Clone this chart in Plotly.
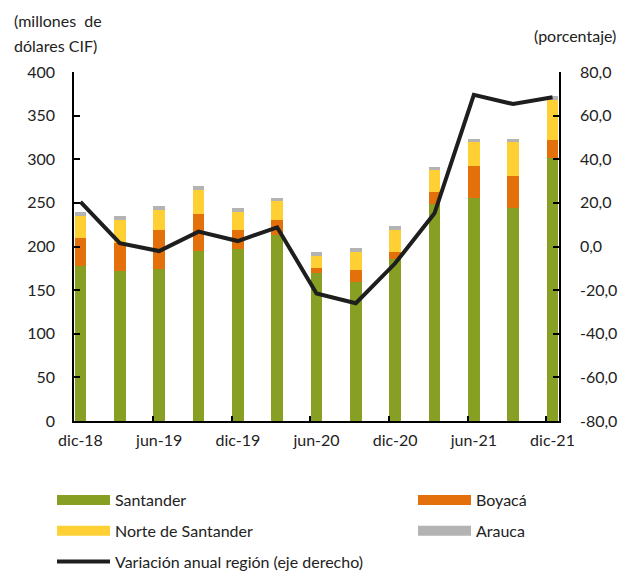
import plotly.graph_objects as go

categories = ["dic-18", "mar-19", "jun-19", "sep-19", "dic-19", "mar-20", "jun-20",
              "sep-20", "dic-20", "mar-21", "jun-21", "sep-21", "dic-21"]
santander = [178, 171.6, 174, 194.5, 197, 213, 169.3, 159.7, 185.3, 249, 256, 244.5, 301]
boyaca = [31.5, 32, 45, 43, 22, 17.6, 6.4, 13.4, 8.8, 13.5, 36.7, 36.3, 21]
norte = [25, 27, 23.3, 27.5, 21, 21, 13.8, 21, 25.2, 25.2, 27.2, 38.6, 46]
arauca = [4.5, 4.3, 4.2, 4.2, 4.2, 4.2, 4.2, 4.6, 3.8, 3.8, 3.8, 4.2, 4.5]
variacion = [20.5, 1.5, -2.1, 6.8, 2.5, 8.8, -21.5, -26, -7.7, 15.2, 69.5, 65.3, 68.4]

left_ticks = [0, 50, 100, 150, 200, 250, 300, 350, 400]
right_ticks = [-80, -60, -40, -20, 0, 20, 40, 60, 80]
right_labels = ["-80,0", "-60,0", "-40,0", "-20,0", "0,0", "20,0", "40,0", "60,0", "80,0"]

C_SAN = "#87A024"
C_BOY = "#E4700C"
C_NOR = "#FFD033"
C_ARA = "#B3B3B3"
C_LINE = "#1E1E1E"
FONT = "Lato"

idx = list(range(len(categories)))

fig = go.Figure()
for name, vals, col in [("Santander", santander, C_SAN), ("Boyacá", boyaca, C_BOY),
                        ("Norte de Santander", norte, C_NOR), ("Arauca", arauca, C_ARA)]:
    fig.add_trace(go.Bar(x=idx, y=vals, name=name, marker=dict(color=col, line=dict(width=0)),
                         width=0.3, showlegend=False))

fig.add_trace(go.Scatter(x=idx, y=variacion, name="Variación anual región (eje derecho)",
                         mode="lines", line=dict(color=C_LINE, width=4),
                         xaxis="x2", yaxis="y2", showlegend=True, legend="legend",
                         legendgroup="g3", legendrank=3))

# legend-only swatches
legend_items = [("Santander", C_SAN, "legend", 1), ("Norte de Santander", C_NOR, "legend", 2),
                ("Boyacá", C_BOY, "legend2", 1), ("Arauca", C_ARA, "legend2", 2)]
for name, col, lg, rk in legend_items:
    fig.add_trace(go.Scatter(x=[None], y=[None], name=name, mode="lines",
                             line=dict(color=col, width=10), legend=lg,
                             legendgroup=name, legendrank=rk))

W, H = 622, 572
L, R, T, B = 74, 63, 72, 151
PW, PH = W - L - R, H - T - B


def px(x):
    return (x - L) / PW


def py(y):
    return 1 - (y - T) / PH


xr = [-0.165, 12.165]
fig.update_layout(
    width=W, height=H,
    margin=dict(l=L, r=R, t=T, b=B, autoexpand=False),
    paper_bgcolor="white", plot_bgcolor="white",
    barmode="stack",
    font=dict(family=FONT, size=16, color="#222222"),
    xaxis=dict(range=xr, tickvals=idx[::2], ticktext=categories[::2], ticks="",
               showline=True, linecolor="black", linewidth=1.5, showgrid=False,
               zeroline=False, tickfont=dict(size=16), ticklabelstandoff=4),
    xaxis2=dict(range=xr, overlaying="x", anchor="y2", tickvals=[i - 0.16 for i in idx[::2]],
                ticks="inside", ticklen=5, tickwidth=1.5, tickcolor="black",
                showticklabels=False, showline=False, showgrid=False, zeroline=False),
    yaxis=dict(range=[0, 400], tickvals=left_ticks, ticks="inside", ticklen=6,
               tickwidth=1.5, tickcolor="black", showline=True, linecolor="black",
               linewidth=1.5, showgrid=False, zeroline=False, ticklabelstandoff=14),
    yaxis2=dict(range=[-80, 80], tickvals=right_ticks, ticktext=right_labels,
                overlaying="y", anchor="x2", side="right", ticks="inside", ticklen=6,
                tickwidth=1.5, tickcolor="black", showline=True, linecolor="black",
                linewidth=1.5, showgrid=False, zeroline=False, ticklabelstandoff=16),
    legend=dict(xref="container", yref="container", x=52 / W, y=1 - 483 / H,
                xanchor="left", yanchor="top", orientation="v", traceorder="grouped",
                tracegroupgap=7, itemwidth=53, font=dict(size=16),
                bgcolor="rgba(0,0,0,0)"),
    legend2=dict(xref="container", yref="container", x=413 / W, y=1 - 483 / H,
                 xanchor="left", yanchor="top", orientation="v", traceorder="grouped",
                 tracegroupgap=7, itemwidth=53, font=dict(size=16),
                 bgcolor="rgba(0,0,0,0)"),
    annotations=[
        dict(text="(millones  de", xref="paper", yref="paper",
             x=px(12), y=py(20), xanchor="left", yanchor="middle", showarrow=False,
             font=dict(size=16)),
        dict(text="dólares CIF)", xref="paper", yref="paper",
             x=px(12), y=py(46), xanchor="left", yanchor="middle", showarrow=False,
             font=dict(size=16)),
        dict(text="(porcentaje)", xref="paper", yref="paper",
             x=px(618), y=py(36), xanchor="right", yanchor="middle",
             showarrow=False, font=dict(size=16)),
    ],
)

fig.write_html(
    "out.html",
    config={"displayModeBar": False},
    post_script="document.body.style.margin='0';document.body.style.overflow='hidden';",
)
